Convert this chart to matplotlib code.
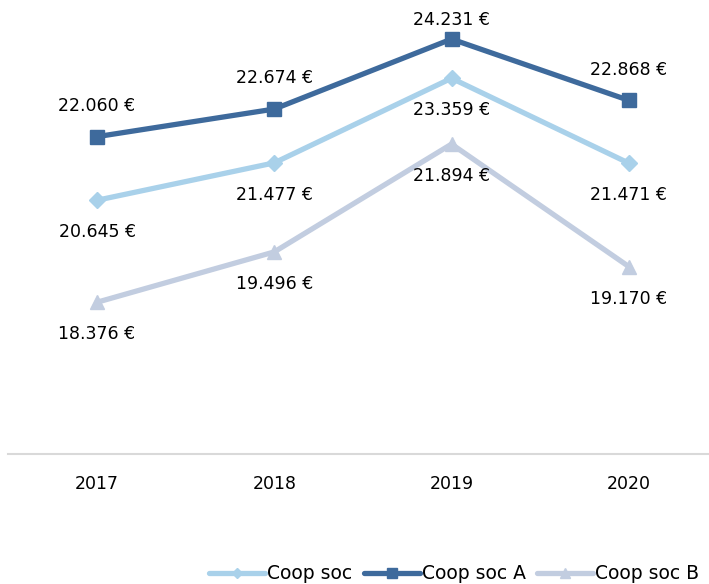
import matplotlib.pyplot as plt

years = ["2017", "2018", "2019", "2020"]
coop_soc = [20645, 21477, 23359, 21471]
coop_soc_a = [22060, 22674, 24231, 22868]
coop_soc_b = [18376, 19496, 21894, 19170]


def fmt(v):
    return f"{v:,}".replace(",", ".") + " €"


fig = plt.figure(figsize=(7.09, 5.84), dpi=100)
ax = fig.add_axes([8.4 / 709, 1 - 454 / 584, 1.0, 449.5 / 584])

x = list(range(len(years)))

# series: (values, label, color, marker, marker size, label offset in points)
series = [
    (coop_soc, "Coop soc", "#a9d1ea", "D", 8, -23),
    (coop_soc_a, "Coop soc A", "#3e6a9c", "s", 10, 22),
    (coop_soc_b, "Coop soc B", "#c2cde0", "^", 10, -23),
]

for vals, name, col, mk, ms, off in series:
    ax.plot(x, vals, color=col, lw=3.8, marker=mk, markersize=ms,
            label=name, solid_capstyle="round")
    for i, v in enumerate(vals):
        dy = off
        if name == "Coop soc A" and i == 2:
            dy = 14
        ax.annotate(fmt(v), (i, v), xytext=(0, dy), textcoords="offset points",
                    ha="center", va="center", fontsize=12.5, color="black")

ax.set_xlim(-0.5, 3.5)
ax.set_ylim(15000, 25000)
ax.set_xticks(x)
ax.set_xticklabels(years, fontsize=12.5)
ax.tick_params(axis="x", length=0, pad=15)
ax.set_yticks([])
for s in ["top", "right", "left"]:
    ax.spines[s].set_visible(False)
ax.spines["bottom"].set_color("#d9d9d9")
ax.spines["bottom"].set_linewidth(1.5)

fig.legend(loc="lower right", bbox_to_anchor=(1.01, -0.028), ncol=3, frameon=False,
           fontsize=13.5, handlelength=3.0, handletextpad=0.1, columnspacing=0.6,
           markerscale=0.7)

fig.savefig("out.png", dpi=100)
